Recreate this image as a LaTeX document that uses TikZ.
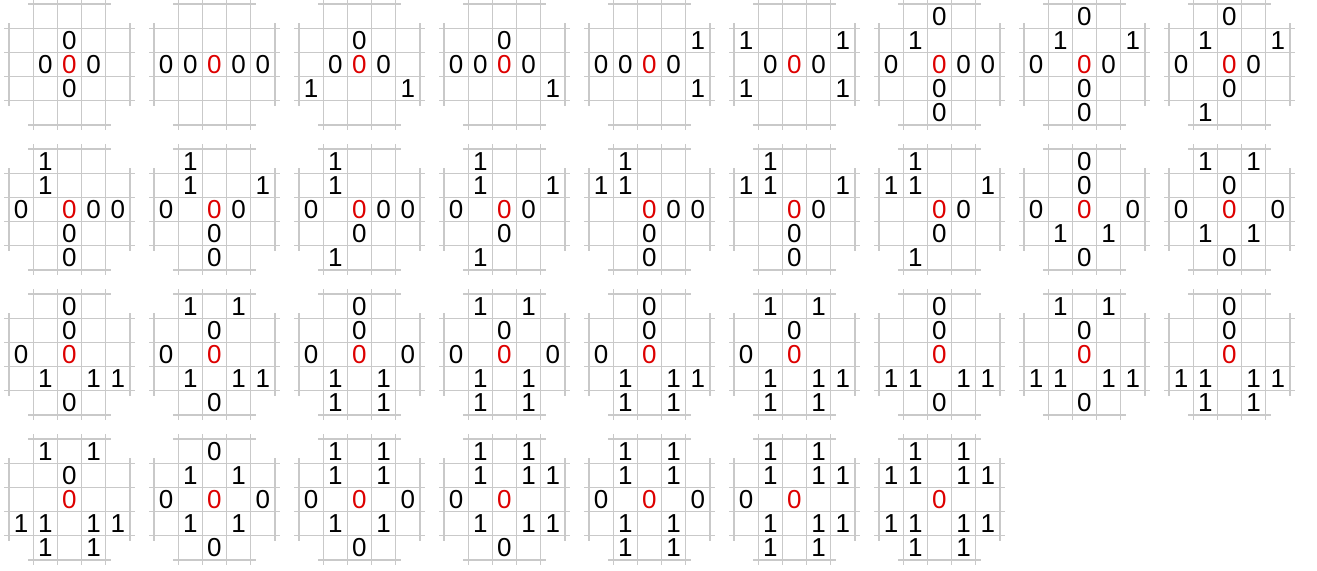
\documentclass[tikz,border=0pt]{standalone}
\usepackage{fontspec}
\setmainfont{Liberation Sans}
\definecolor{centre}{RGB}{221,0,0}
\tikzset{
  gridline/.style={draw=gray!42, line width=1pt},
  digit/.style={inner sep=0pt, anchor=center, font=\fontsize{19.5pt}{21pt}\selectfont},
  ctr/.style={digit, text=centre}
}
% one neighbourhood: #1 column, #2 row, #3 list of c/r/value
\newcommand{\nbhd}[3]{%
  \begin{scope}[shift={(6*#1,6*#2)}]
    \foreach \k in {1,...,4} {
      \draw[gridline] (\k,-0.2) -- (\k,5.2);
      \draw[gridline] (-0.2,\k) -- (5.2,\k);
    }
    \foreach \k in {0,5} {
      \draw[gridline] (\k,0.8) -- (\k,4.2);
      \draw[gridline] (0.8,\k) -- (4.2,\k);
    }
    \node[ctr] (m#1#2) at (2.5,2.5) {0};
    \foreach \c/\r/\v in {#3}
      \node[digit] (m#1#2-\c\r) at (\c+0.5,\r+0.5) {\v};
  \end{scope}}
\begin{document}
\begin{tikzpicture}[x=18.125pt, y=-18.125pt]
  \useasboundingbox (-0.3724,-0.1655) rectangle (54.124,23.421);
  % first row
  \nbhd{0}{0}{2/1/0, 1/2/0, 3/2/0, 2/3/0}
  \nbhd{1}{0}{0/2/0, 1/2/0, 3/2/0, 4/2/0}
  \nbhd{2}{0}{2/1/0, 1/2/0, 3/2/0, 0/3/1, 4/3/1}
  \nbhd{3}{0}{2/1/0, 0/2/0, 1/2/0, 3/2/0, 4/3/1}
  \nbhd{4}{0}{4/1/1, 0/2/0, 1/2/0, 3/2/0, 4/3/1}
  \nbhd{5}{0}{0/1/1, 4/1/1, 1/2/0, 3/2/0, 0/3/1, 4/3/1}
  \nbhd{6}{0}{2/0/0, 1/1/1, 0/2/0, 3/2/0, 4/2/0, 2/3/0, 2/4/0}
  \nbhd{7}{0}{2/0/0, 1/1/1, 4/1/1, 0/2/0, 3/2/0, 2/3/0, 2/4/0}
  \nbhd{8}{0}{2/0/0, 1/1/1, 4/1/1, 0/2/0, 3/2/0, 2/3/0, 1/4/1}
  % second row
  \nbhd{0}{1}{1/0/1, 1/1/1, 0/2/0, 3/2/0, 4/2/0, 2/3/0, 2/4/0}
  \nbhd{1}{1}{1/0/1, 1/1/1, 4/1/1, 0/2/0, 3/2/0, 2/3/0, 2/4/0}
  \nbhd{2}{1}{1/0/1, 1/1/1, 0/2/0, 3/2/0, 4/2/0, 2/3/0, 1/4/1}
  \nbhd{3}{1}{1/0/1, 1/1/1, 4/1/1, 0/2/0, 3/2/0, 2/3/0, 1/4/1}
  \nbhd{4}{1}{1/0/1, 0/1/1, 1/1/1, 3/2/0, 4/2/0, 2/3/0, 2/4/0}
  \nbhd{5}{1}{1/0/1, 0/1/1, 1/1/1, 4/1/1, 3/2/0, 2/3/0, 2/4/0}
  \nbhd{6}{1}{1/0/1, 0/1/1, 1/1/1, 4/1/1, 3/2/0, 2/3/0, 1/4/1}
  \nbhd{7}{1}{2/0/0, 2/1/0, 0/2/0, 4/2/0, 1/3/1, 3/3/1, 2/4/0}
  \nbhd{8}{1}{1/0/1, 3/0/1, 2/1/0, 0/2/0, 4/2/0, 1/3/1, 3/3/1, 2/4/0}
  % third row
  \nbhd{0}{2}{2/0/0, 2/1/0, 0/2/0, 1/3/1, 3/3/1, 4/3/1, 2/4/0}
  \nbhd{1}{2}{1/0/1, 3/0/1, 2/1/0, 0/2/0, 1/3/1, 3/3/1, 4/3/1, 2/4/0}
  \nbhd{2}{2}{2/0/0, 2/1/0, 0/2/0, 4/2/0, 1/3/1, 3/3/1, 1/4/1, 3/4/1}
  \nbhd{3}{2}{1/0/1, 3/0/1, 2/1/0, 0/2/0, 4/2/0, 1/3/1, 3/3/1, 1/4/1, 3/4/1}
  \nbhd{4}{2}{2/0/0, 2/1/0, 0/2/0, 1/3/1, 3/3/1, 4/3/1, 1/4/1, 3/4/1}
  \nbhd{5}{2}{1/0/1, 3/0/1, 2/1/0, 0/2/0, 1/3/1, 3/3/1, 4/3/1, 1/4/1, 3/4/1}
  \nbhd{6}{2}{2/0/0, 2/1/0, 0/3/1, 1/3/1, 3/3/1, 4/3/1, 2/4/0}
  \nbhd{7}{2}{1/0/1, 3/0/1, 2/1/0, 0/3/1, 1/3/1, 3/3/1, 4/3/1, 2/4/0}
  \nbhd{8}{2}{2/0/0, 2/1/0, 0/3/1, 1/3/1, 3/3/1, 4/3/1, 1/4/1, 3/4/1}
  % fourth row
  \nbhd{0}{3}{1/0/1, 3/0/1, 2/1/0, 0/3/1, 1/3/1, 3/3/1, 4/3/1, 1/4/1, 3/4/1}
  \nbhd{1}{3}{2/0/0, 1/1/1, 3/1/1, 0/2/0, 4/2/0, 1/3/1, 3/3/1, 2/4/0}
  \nbhd{2}{3}{1/0/1, 3/0/1, 1/1/1, 3/1/1, 0/2/0, 4/2/0, 1/3/1, 3/3/1, 2/4/0}
  \nbhd{3}{3}{1/0/1, 3/0/1, 1/1/1, 3/1/1, 4/1/1, 0/2/0, 1/3/1, 3/3/1, 4/3/1, 2/4/0}
  \nbhd{4}{3}{1/0/1, 3/0/1, 1/1/1, 3/1/1, 0/2/0, 4/2/0, 1/3/1, 3/3/1, 1/4/1, 3/4/1}
  \nbhd{5}{3}{1/0/1, 3/0/1, 1/1/1, 3/1/1, 4/1/1, 0/2/0, 1/3/1, 3/3/1, 4/3/1, 1/4/1, 3/4/1}
  \nbhd{6}{3}{1/0/1, 3/0/1, 0/1/1, 1/1/1, 3/1/1, 4/1/1, 0/3/1, 1/3/1, 3/3/1, 4/3/1, 1/4/1, 3/4/1}
\end{tikzpicture}
\end{document}
